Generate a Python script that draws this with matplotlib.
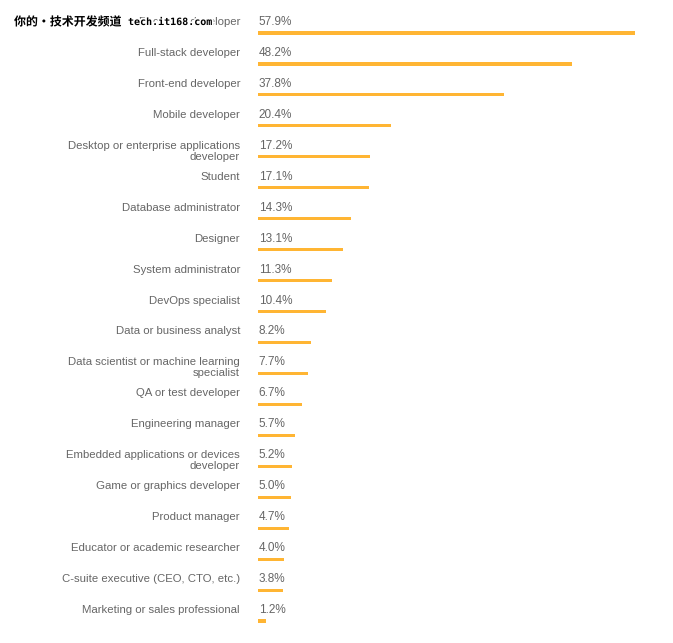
import matplotlib.pyplot as plt
import matplotlib.patheffects as pe

# developer roles and share of respondents (%)
roles = [
    'Back-end developer', 'Full-stack developer', 'Front-end developer',
    'Mobile developer', 'Desktop or enterprise applications\ndeveloper',
    'Student', 'Database administrator', 'Designer', 'System administrator',
    'DevOps specialist', 'Data or business analyst',
    'Data scientist or machine learning\nspecialist', 'QA or test developer',
    'Engineering manager', 'Embedded applications or devices\ndeveloper',
    'Game or graphics developer', 'Product manager',
    'Educator or academic researcher', 'C-suite executive (CEO, CTO, etc.)',
    'Marketing or sales professional',
]
shares = [57.9, 48.2, 37.8, 20.4, 17.2, 17.1, 14.3, 13.1, 11.3, 10.4,
          8.2, 7.7, 6.7, 5.7, 5.2, 5.0, 4.7, 4.0, 3.8, 1.2]

W, H = 673, 643
fig = plt.figure(figsize=(W / 100, H / 100), dpi=100)
fig.patch.set_facecolor('white')

x0 = 258          # bar start (px)
px_per_pct = 6.51
row0, pitch = 33, 30.95

ax = fig.add_axes([x0 / W, 0, 1 - x0 / W, 1])
ax.set_xlim(0, (W - x0) / px_per_pct)
ax.set_ylim((H - row0) / pitch, -row0 / pitch)
ax.axis('off')

bar_col = '#FFB533'
txt_col = '#666666'
fs = 8.2

ypos = list(range(len(roles)))
ax.barh(ypos, shares, height=3.2 / pitch, color=bar_col, left=0)

lab_off = 11 / pitch
for i, (r, v) in enumerate(zip(roles, shares)):
    ax.text(0.1, i - lab_off, f'{v:.1f}%', ha='left', va='center',
            fontsize=fs + 0.3, color=txt_col, family='Liberation Sans')
    lines = r.split('\n')
    for k, ln in enumerate(lines):
        ax.annotate(ln, xy=(0, i - lab_off + k * 11 / pitch), xytext=(-18, 0),
                    textcoords='offset pixels', ha='right', va='center',
                    fontsize=fs, color=txt_col, family='Liberation Sans',
                    annotation_clip=False)

# watermark
halo = [pe.withStroke(linewidth=2.5, foreground='white')]
fig.text(14 / W, 1 - 22 / H, '你的·技术开发频道', ha='left', va='center',
         fontsize=8.6, fontweight='bold', color='black',
         family=['Noto Sans CJK SC', 'DejaVu Sans'], path_effects=halo, zorder=10)
fig.text(128 / W, 1 - 22 / H, 'tech.it168.com', ha='left', va='center',
         fontsize=7.2, fontweight='bold', color='black',
         family='DejaVu Sans Mono', path_effects=halo, zorder=10)

fig.savefig('out.png', dpi=100, facecolor='white')
